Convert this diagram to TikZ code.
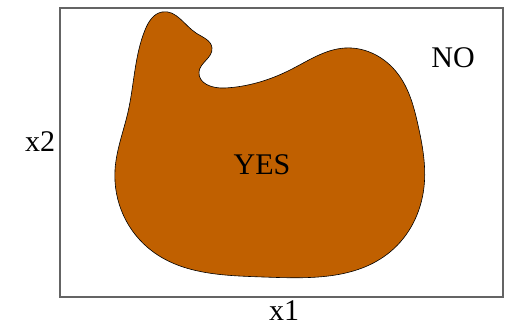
\documentclass[tikz,border=0pt]{standalone}
\usepackage{fontspec}
\setmainfont{Liberation Serif}
\usepackage{tikz}
\usetikzlibrary{positioning,hobby}
\usepackage{xcolor}
\definecolor{regionorange}{RGB}{192,96,0}
\definecolor{framegray}{RGB}{100,100,100}

\begin{document}
\begin{tikzpicture}[x=1pt, y=-1pt, font=\fontsize{30}{34}\selectfont,
      frame/.style={draw=framegray, line width=1.1pt},
      region/.style={draw=black, fill=regionorange, line width=0.6pt},
      lbl/.style={inner sep=0pt}
    ]
    \useasboundingbox (0,0) rectangle (510,326);
    \draw[frame] (60,8) rectangle (503,297);

    % decision region
    \draw[region, use Hobby shortcut, closed=true]
      (162,12) .. (196,33) .. (212,48) .. (199,72) .. (225,88)
      .. (290,70) .. (345,48) .. (398,74) .. (418,125) .. (424,187)
      .. (390,252) .. (263,277) .. (152,251) .. (115,170) .. (128,112)
      .. (145,30);

    \node[lbl] (yes) at (262,165) {YES};
    \node[lbl] (no) at (453,58) {NO};
    \node[lbl] (xone) at (284,311) {x1};
    \node[lbl] (xtwo) at (40,142) {x2};
  \end{tikzpicture}
\end{document}
